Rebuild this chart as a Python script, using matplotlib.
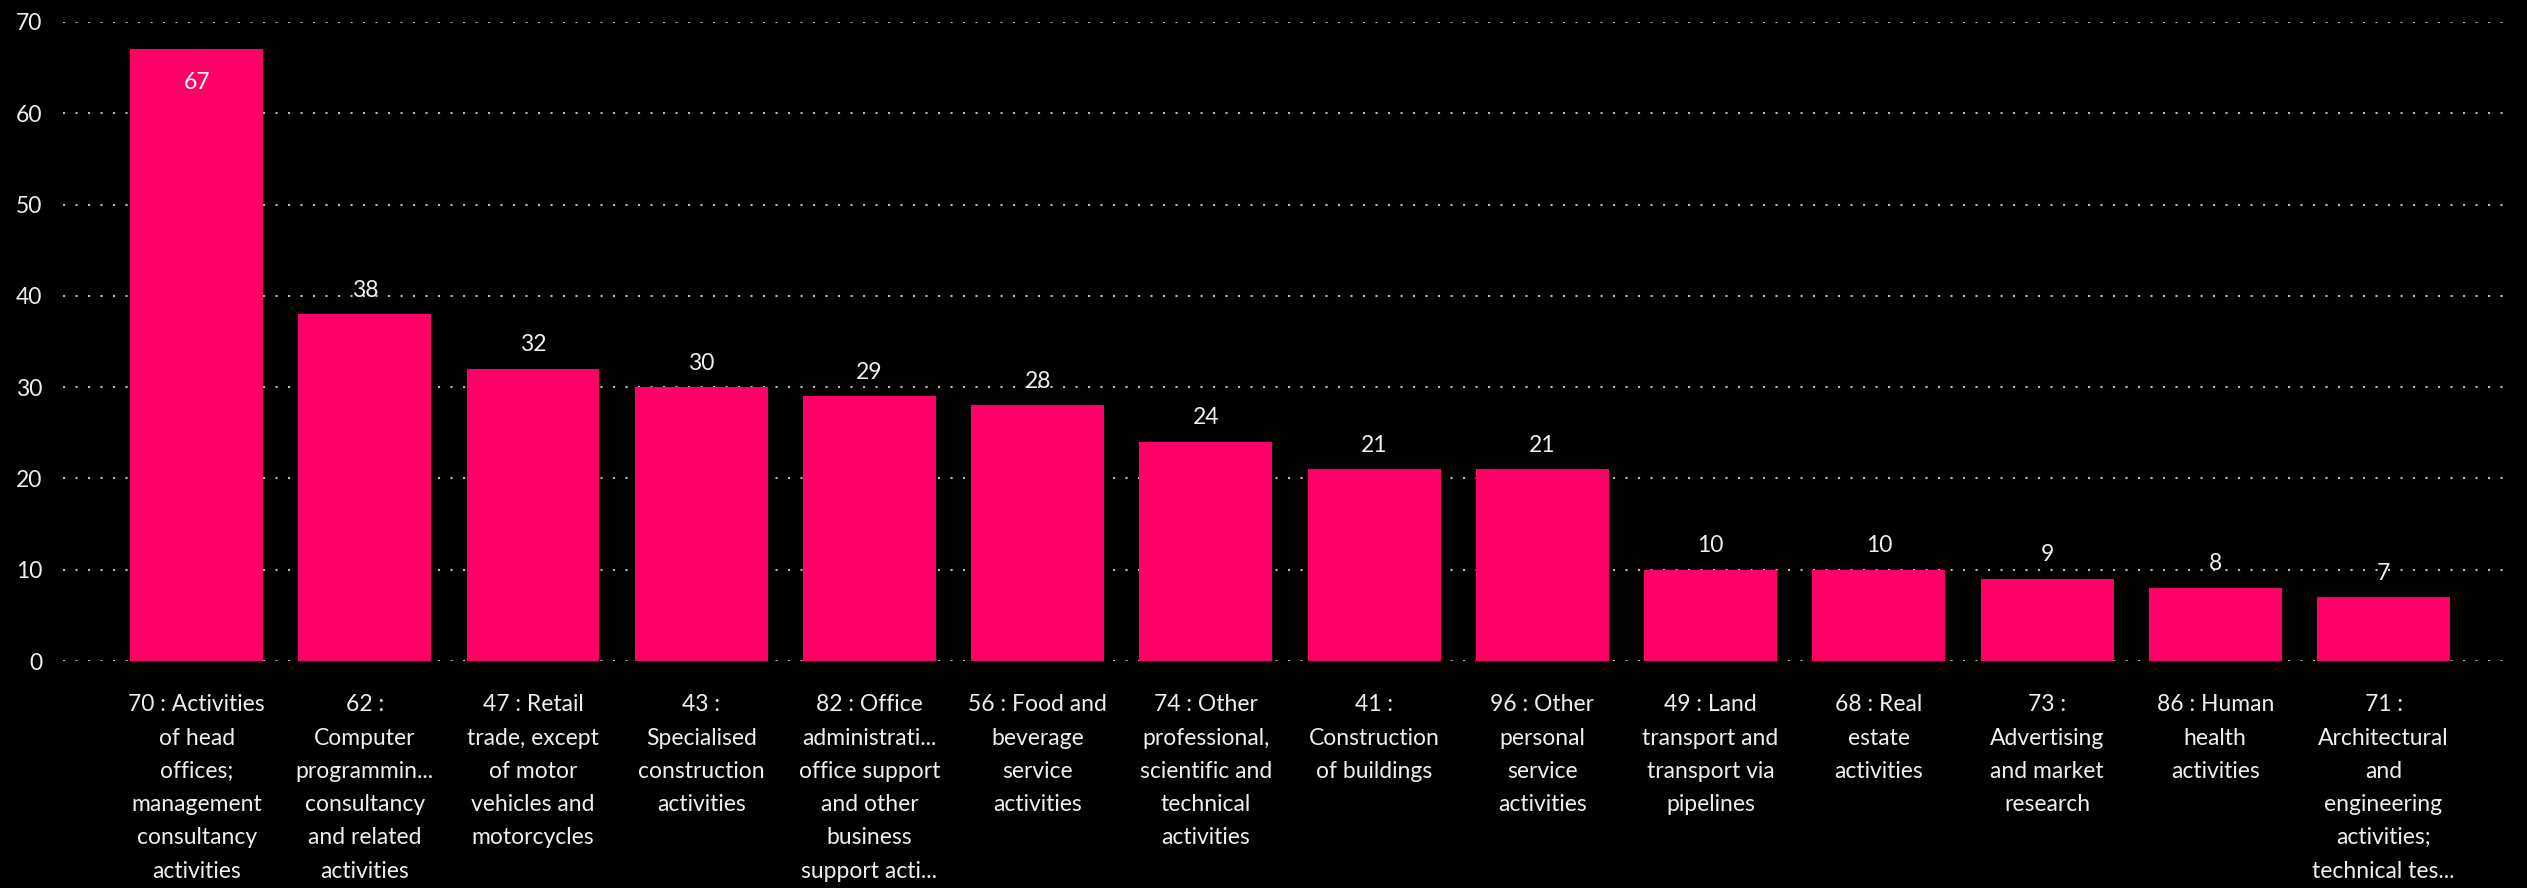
import matplotlib
matplotlib.use("Agg")
import matplotlib.pyplot as plt

# Données
categories = [
    "70 : Activities\nof head\noffices;\nmanagement\nconsultancy\nactivities",
    "62 :\nComputer\nprogrammin...\nconsultancy\nand related\nactivities",
    "47 : Retail\ntrade, except\nof motor\nvehicles and\nmotorcycles",
    "43 :\nSpecialised\nconstruction\nactivities",
    "82 : Office\nadministrati...\noffice support\nand other\nbusiness\nsupport acti...",
    "56 : Food and\nbeverage\nservice\nactivities",
    "74 : Other\nprofessional,\nscientific and\ntechnical\nactivities",
    "41 :\nConstruction\nof buildings",
    "96 : Other\npersonal\nservice\nactivities",
    "49 : Land\ntransport and\ntransport via\npipelines",
    "68 : Real\nestate\nactivities",
    "73 :\nAdvertising\nand market\nresearch",
    "86 : Human\nhealth\nactivities",
    "71 :\nArchitectural\nand\nengineering\nactivities;\ntechnical tes...",
]
values = [67, 38, 32, 30, 29, 28, 24, 21, 21, 10, 10, 9, 8, 7]
yticks = [0, 10, 20, 30, 40, 50, 60, 70]

bar_color = "#FF0066"
text_color = "#EEEEEE"
fonts = ["Liberation Sans Narrow", "Lato", "DejaVu Sans"]
fs = 16.5

W, H = 2527, 888
fig = plt.figure(figsize=(W / 100, H / 100), dpi=100, facecolor="black")
ax = fig.add_axes([63 / W, (H - 661) / H, (2508 - 63) / W, 639 / H])
ax.set_facecolor("black")

x = list(range(len(values)))
bars = ax.bar(x, values, width=0.79, color=bar_color, zorder=2)

ax.set_xlim(-0.794, 13.74)
ax.set_ylim(0, 70)

# grille en pointillés
ax.set_yticks(yticks)
ax.grid(axis="y", color="#BBBBBB", linestyle=(0, (1, 5)), linewidth=1.5, zorder=1)
ax.grid(axis="x", visible=False)
for s in ax.spines.values():
    s.set_visible(False)
ax.tick_params(axis="both", length=0)
ax.tick_params(axis="y", pad=15)
ax.tick_params(axis="x", pad=24)

ax.set_xticks(x)
ax.set_xticklabels(categories, color=text_color, fontsize=fs, family=fonts,
                   linespacing=1.72, va="top", ha="center")
for lab in ax.get_yticklabels():
    lab.set_color(text_color)
    lab.set_fontsize(fs)
    lab.set_family(fonts)

# étiquettes de données
ymax = ax.get_ylim()[1]
for xi, v in zip(x, values):
    if v > ymax * 0.93:
        ax.annotate(str(v), (xi, v), xytext=(0, -33), textcoords="offset pixels",
                    ha="center", va="center", color="white", fontsize=fs, family=fonts)
    else:
        ax.annotate(str(v), (xi, v), xytext=(0, 24), textcoords="offset pixels",
                    ha="center", va="center", color=text_color, fontsize=fs, family=fonts)

fig.savefig("out.png", dpi=100, facecolor="black")
